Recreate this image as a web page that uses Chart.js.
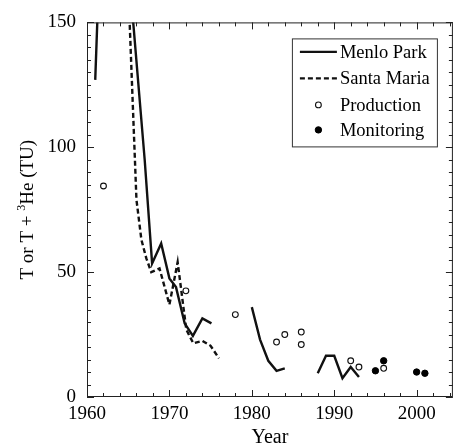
<!DOCTYPE html>
<html>
<head>
<meta charset="utf-8">
<script src="https://cdn.jsdelivr.net/npm/chart.js@4.4.1/dist/chart.umd.min.js"></script>
<style>
  html, body { margin: 0; padding: 0; background: #fff; }
  canvas { display: block; }
</style>
</head>
<body>
<canvas id="c" width="458" height="447"></canvas>
<script>
// ---- data ----
const menloYears  = [1961, 1962, 1965, 1967, 1967.9, 1969, 1970, 1970.8, 1971.85, 1972.85, 1974, 1975.1, 1977, 1980, 1981, 1982, 1983, 1984, 1986, 1988, 1989, 1990, 1991, 1992, 1993];
const menloValues = [127, 220, 174, 95, 53.5, 61.5, 47.5, 44, 29.5, 24.5, 31.5, 29.5, null, 36, 23, 14.5, 10.5, 11.5, null, 9.5, 16.5, 16.5, 7.5, 12, 8];

const santaMariaYears  = [1965, 1966, 1966.6, 1967.2, 1967.8, 1968.8, 1970, 1971, 1972.05, 1972.9, 1974, 1975, 1976];
const santaMariaValues = [165, 79, 63, 55.5, 50, 51.5, 37, 54, 27, 21.5, 22.5, 20.5, 15.5];

const productionYears  = [1962, 1972, 1978, 1983, 1984, 1986, 1986, 1992, 1993, 1996];
const productionValues = [84.5, 42.5, 33, 22, 25, 26, 21, 14.5, 12, 11.5];

const monitoringYears  = [1995, 1996, 2000, 2001];
const monitoringValues = [10.5, 14.5, 10, 9.5];

const seriesLabels = ['Menlo Park', 'Santa Maria', 'Production', 'Monitoring'];
const xTickValues = [1960, 1970, 1980, 1990, 2000];
const yTickValues = [0, 50, 100, 150];
const xAxisTitle = 'Year';
const yAxisTitleParts = ['T or T + ', '3', 'He (TU)'];

// ---- helpers ----
const FONT = "'Liberation Serif', 'Times New Roman', serif";
Chart.defaults.font.family = FONT;
Chart.defaults.color = '#000';
const toXY = (xs, ys) => xs.map((x, i) => ({ x: x, y: ys[i] }));

const frameAndTicks = {
  id: 'frameAndTicks',
  afterDatasetsDraw(chart) {
    const { ctx, chartArea: a, scales: { x, y } } = chart;
    ctx.save();
    ctx.strokeStyle = '#222';
    ctx.lineWidth = 1;
    ctx.strokeRect(a.left + 0.5, a.top + 0.5, a.right - a.left - 1, a.bottom - a.top - 1);
    ctx.beginPath();
    for (let v = 1960; v <= 2004; v += 2) {
      const px = Math.round(x.getPixelForValue(v)) + 0.5;
      const len = v % 10 === 0 ? 7 : 4;
      ctx.moveTo(px, a.bottom); ctx.lineTo(px, a.bottom - len);
      ctx.moveTo(px, a.top); ctx.lineTo(px, a.top + len);
    }
    for (let v = 0; v <= 150; v += 5) {
      const py = Math.round(y.getPixelForValue(v)) + 0.5;
      const len = v % 50 === 0 ? 7 : 4;
      ctx.moveTo(a.left, py); ctx.lineTo(a.left + len, py);
      ctx.moveTo(a.right, py); ctx.lineTo(a.right - len, py);
    }
    ctx.stroke();
    ctx.restore();
  }
};

const yTitle = {
  id: 'yTitle',
  afterDraw(chart) {
    const { ctx, chartArea: a } = chart;
    const big = '19px ' + FONT, small = '12px ' + FONT;
    ctx.save();
    ctx.fillStyle = '#000';
    ctx.textBaseline = 'middle';
    ctx.font = big;
    const w1 = ctx.measureText(yAxisTitleParts[0]).width;
    const w3 = ctx.measureText(yAxisTitleParts[2]).width;
    ctx.font = small;
    const w2 = ctx.measureText(yAxisTitleParts[1]).width;
    const total = w1 + w2 + w3;
    ctx.translate(28, (a.top + a.bottom) / 2);
    ctx.rotate(-Math.PI / 2);
    let cx = -total / 2;
    ctx.font = big; ctx.textAlign = 'left';
    ctx.fillText(yAxisTitleParts[0], cx, 0); cx += w1;
    ctx.font = small;
    ctx.fillText(yAxisTitleParts[1], cx, -6); cx += w2;
    ctx.font = big;
    ctx.fillText(yAxisTitleParts[2], cx, 0);
    ctx.restore();
  }
};

const boxLegend = {
  id: 'boxLegend',
  afterDraw(chart) {
    const { ctx, chartArea: a } = chart;
    const left = a.right - 161, top = a.top + 16, width = 145, height = 108;
    ctx.save();
    ctx.fillStyle = '#fff';
    ctx.fillRect(left, top, width, height);
    ctx.strokeStyle = '#333';
    ctx.lineWidth = 1;
    ctx.strokeRect(left + 0.5, top + 0.5, width, height);
    const rows = [13.5, 40, 66.5, 91.5];
    chart.data.datasets.forEach((ds, i) => {
      const cy = top + rows[i];
      const x0 = left + 8, x1 = left + 45;
      if (ds.showLine !== false) {
        ctx.strokeStyle = ds.borderColor;
        ctx.lineWidth = ds.borderWidth;
        ctx.setLineDash(ds.borderDash || []);
        ctx.beginPath(); ctx.moveTo(x0, cy); ctx.lineTo(x1, cy); ctx.stroke();
        ctx.setLineDash([]);
      } else {
        ctx.beginPath();
        ctx.arc((x0 + x1) / 2, cy, ds.pointRadius, 0, Math.PI * 2);
        ctx.fillStyle = ds.pointBackgroundColor;
        ctx.fill();
        ctx.lineWidth = ds.pointBorderWidth;
        ctx.strokeStyle = ds.pointBorderColor;
        ctx.stroke();
      }
      ctx.fillStyle = '#000';
      ctx.font = '18.5px ' + FONT;
      ctx.textBaseline = 'middle';
      ctx.textAlign = 'left';
      ctx.fillText(ds.label, left + 48, cy + 1);
    });
    ctx.restore();
  }
};

new Chart(document.getElementById('c'), {
  type: 'line',
  data: {
    datasets: [
      {
        label: seriesLabels[0],
        data: toXY(menloYears, menloValues),
        borderColor: '#111', borderWidth: 2.4, pointRadius: 0,
        spanGaps: false, tension: 0, fill: false
      },
      {
        label: seriesLabels[1],
        data: toXY(santaMariaYears, santaMariaValues),
        borderColor: '#111', borderWidth: 2.4, borderDash: [5, 3], pointRadius: 0,
        spanGaps: false, tension: 0, fill: false
      },
      {
        label: seriesLabels[2],
        data: toXY(productionYears, productionValues),
        showLine: false, pointRadius: 2.9, pointBorderWidth: 1.1,
        pointBackgroundColor: '#fff', pointBorderColor: '#111', borderColor: '#111'
      },
      {
        label: seriesLabels[3],
        data: toXY(monitoringYears, monitoringValues),
        showLine: false, pointRadius: 3.2, pointBorderWidth: 1,
        pointBackgroundColor: '#000', pointBorderColor: '#000', borderColor: '#000'
      }
    ]
  },
  options: {
    responsive: false,
    animation: false,
    devicePixelRatio: 1,
    layout: { padding: { top: 22, right: 3, left: 0, bottom: 0 } },
    plugins: { legend: { display: false }, tooltip: { enabled: false } },
    scales: {
      x: {
        type: 'linear', min: 1960, max: 2004.4,
        afterBuildTicks: s => { s.ticks = xTickValues.map(v => ({ value: v })); },
        afterFit: s => { s.height = 50; },
        grid: { display: false, drawTicks: false },
        border: { display: false },
        ticks: { padding: 6, color: '#000', font: { family: FONT, size: 19 }, maxRotation: 0, autoSkip: false, callback: v => String(v) },
        title: { display: true, text: xAxisTitle, color: '#000', font: { family: FONT, size: 20 }, padding: { top: 0, bottom: -3 } }
      },
      y: {
        type: 'linear', min: 0, max: 150,
        afterBuildTicks: s => { s.ticks = yTickValues.map(v => ({ value: v })); },
        afterFit: s => { s.width = 87; },
        grid: { display: false, drawTicks: false },
        border: { display: false },
        ticks: { padding: 11, color: '#000', font: { family: FONT, size: 19 }, callback: v => String(v) }
      }
    }
  },
  plugins: [frameAndTicks, yTitle, boxLegend]
});
</script>
</body>
</html>
